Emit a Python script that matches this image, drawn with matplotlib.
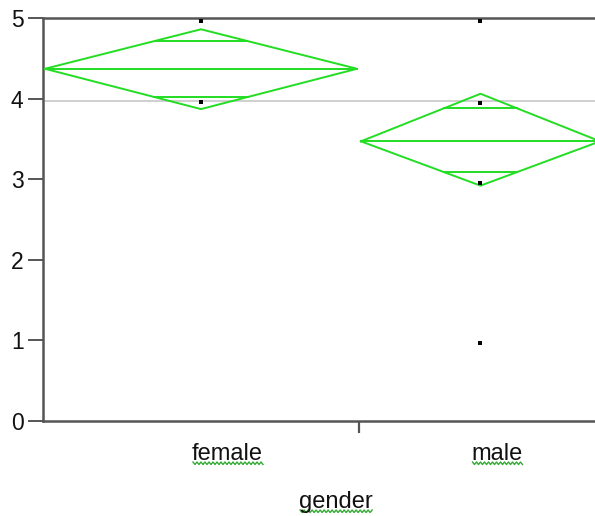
import numpy as np
import matplotlib.pyplot as plt
from matplotlib.transforms import ScaledTranslation, blended_transform_factory

groups = ['female', 'male']
group_n = [13, 10]
means = [4.37, 3.47]
ci_upper = [4.86, 4.06]
ci_lower = [3.87, 2.92]
overlap_hi = [4.72, 3.88]
overlap_lo = [4.02, 3.09]
grand_mean = 3.97
pts_group = ['female', 'female', 'male', 'male', 'male', 'male']
pts_value = [4.96, 3.96, 4.96, 3.95, 2.95, 0.97]

plt.rcParams['font.family'] = ['Liberation Sans', 'DejaVu Sans']

fig = plt.figure(figsize=(5.95, 5.16), dpi=100)
W, H = 595, 516
ax = fig.add_axes([43 / W, 95 / H, 559 / W, 403 / H])

green = '#22dd22'
edges = np.concatenate([[0], np.cumsum(group_n)])
centers = (edges[:-1] + edges[1:]) / 2

ax.axhline(grand_mean, color='#cccccc', lw=1.3, zorder=1)

for i, g in enumerate(groups):
    c = centers[i]
    half = group_n[i] / 2 - 0.08
    xs = [c - half, c, c + half, c, c - half]
    ys = [means[i], ci_upper[i], means[i], ci_lower[i], means[i]]
    ax.plot(xs, ys, color=green, lw=1.4, zorder=3)
    ax.plot([c - half, c + half], [means[i], means[i]], color=green, lw=1.4, zorder=3)
    # overlap marks span the diamond at their height
    for y, tip in [(overlap_hi[i], ci_upper[i]), (overlap_lo[i], ci_lower[i])]:
        w = half * (tip - y) / (tip - means[i])
        ax.plot([c - w, c + w], [y, y], color=green, lw=1.4, zorder=3)

px = [centers[groups.index(g)] for g in pts_group]
ax.scatter(px, pts_value, marker='s', s=6, color='black', zorder=4, linewidths=0)

ax.set_xlim(edges[0], edges[-1])
ax.set_ylim(0, 5)
ax.set_yticks([0, 1, 2, 3, 4, 5])
ax.set_xticks(edges[1:-1])
ax.set_xticklabels([])
ax.tick_params(axis='y', length=11, width=1.4, color='#555555', labelsize=16.5,
               labelcolor='#111111', pad=3)
ax.tick_params(axis='x', length=8.5, width=1.6, color='#555555')

for side in ['left', 'top', 'bottom']:
    ax.spines[side].set_color('#555555')
    ax.spines[side].set_linewidth(1.8)
ax.spines['right'].set_visible(False)

labels = []
trans = blended_transform_factory(ax.transData, fig.transFigure)
off = ScaledTranslation(-9 / 100, 0, fig.dpi_scale_trans)
for i, g in enumerate(groups):
    t = ax.text(centers[i], 1 - 460 / H, g, transform=trans + off, ha='left', va='baseline',
                fontsize=17, color='#111111')
    labels.append(t)
t = fig.text(336 / W, 1 - 508 / H, 'gender', ha='center', va='baseline', fontsize=17,
             color='#111111')
labels.append(t)

# squiggly underline under each word
fig.canvas.draw()
r = fig.canvas.get_renderer()
for t in labels:
    bb = t.get_window_extent(r)
    base = t.get_transform().transform(t.get_position())[1]
    xs = np.arange(bb.x0 + 1, bb.x1, 2.0)
    ys = base - 2 + np.where(np.arange(len(xs)) % 2 == 0, 0, -2.5)
    fig.add_artist(plt.Line2D(xs / W, ys / H, color='#33aa33', lw=1.0))

fig.savefig('out.png', dpi=100)
